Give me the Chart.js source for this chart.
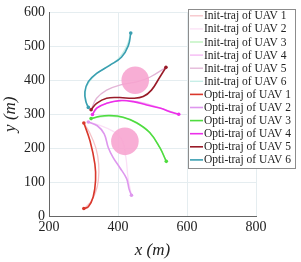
<!DOCTYPE html>
<html>
<head>
<meta charset="utf-8">
<script src="https://cdn.jsdelivr.net/npm/chart.js@4"></script>
<style>
  html, body { margin: 0; padding: 0; background: #fff; }
  #wrap { width: 301px; height: 262px; }
</style>
</head>
<body>
<div id="wrap"><canvas id="trajChart"></canvas></div>
<script>
// Axis ticks
const xTicks = [200, 400, 600, 800];
const yTicks = [0, 100, 200, 300, 400, 500, 600];

// Initial trajectories (m)
const init1X = [301, 318, 336, 344, 343, 335, 320, 301];
const init1Y = [274, 245, 200, 153, 105, 70, 40, 22];
const init2X = [314, 348, 385, 411, 423, 429, 439];
const init2Y = [277, 267, 250, 225, 172, 114, 61];
const init3X = [322, 348, 377, 416, 455, 493, 521, 540];
const init3Y = [287, 292, 294, 290, 273, 244, 202, 161];
const init4X = [326, 345, 380, 420, 460, 510, 576];
const init4Y = [299, 322, 336, 341, 336, 322, 300];
const init5X = [322, 338, 367, 405, 454, 492, 539];
const init5Y = [313, 347, 371, 386, 395, 409, 438];
const init6X = [314, 308, 305, 310, 330, 360, 400, 425, 437];
const init6Y = [320, 335, 360, 385, 412, 435, 462, 500, 539];

// Optimised trajectories (m)
const opti1X = [301, 319, 333, 335, 328, 314, 301];
const opti1Y = [274, 221, 153, 105, 56, 27, 22];
const opti2X = [314, 340, 360, 372, 386, 405, 425, 432, 439];
const opti2Y = [277, 266, 242, 201, 172, 143, 110, 80, 61];
const opti3X = [322, 348, 377, 415, 454, 492, 521, 540];
const opti3Y = [287, 294, 296, 291, 275, 246, 202, 161];
const opti4X = [326, 338, 367, 405, 444, 483, 521, 560, 576];
const opti4Y = [299, 318, 332, 340, 337, 327, 318, 304, 300];
const opti5X = [322, 338, 367, 405, 444, 473, 497, 521, 539];
const opti5Y = [313, 332, 347, 349, 347, 352, 371, 409, 438];
const opti6X = [314, 307, 304, 314, 338, 376, 410, 430, 437];
const opti6Y = [320, 337, 366, 396, 420, 444, 468, 502, 539];

// Obstacles (centre and radius, m)
const obsX = [450, 420];
const obsY = [400, 220];
const obsR = [40, 40];

const labels = [
  'Init-traj of UAV 1', 'Init-traj of UAV 2', 'Init-traj of UAV 3',
  'Init-traj of UAV 4', 'Init-traj of UAV 5', 'Init-traj of UAV 6',
  'Opti-traj of UAV 1', 'Opti-traj of UAV 2', 'Opti-traj of UAV 3',
  'Opti-traj of UAV 4', 'Opti-traj of UAV 5', 'Opti-traj of UAV 6'
];
const colors = [
  '#f6c2c8', '#fbe0f6', '#b9f2b9', '#f5b5f3', '#e2b4d6', '#c4eee6',
  '#d9372b', '#de97ee', '#4fdc3f', '#ec2fea', '#991b28', '#3a9fb1'
];

const xs = [init1X, init2X, init3X, init4X, init5X, init6X, opti1X, opti2X, opti3X, opti4X, opti5X, opti6X];
const ys = [init1Y, init2Y, init3Y, init4Y, init5Y, init6Y, opti1Y, opti2Y, opti3Y, opti4Y, opti5Y, opti6Y];

function pts(xArr, yArr) {
  return xArr.map((x, i) => ({ x: x, y: yArr[i] }));
}

const datasets = [];
labels.forEach((label, k) => {
  const isOpti = k >= 6;
  datasets.push({
    type: 'line',
    label: label,
    data: pts(xs[k], ys[k]),
    borderColor: colors[k],
    backgroundColor: colors[k],
    borderWidth: isOpti ? 1.6 : 1.3,
    tension: 0.4,
    fill: false,
    pointRadius: ctx => (isOpti && (ctx.dataIndex === 0 || ctx.dataIndex === xs[k].length - 1)) ? 1.8 : 0,
    pointBorderWidth: 0,
    order: isOpti ? 1 : 2
  });
});

// Obstacles: circles placed and sized with the chart scales
const obstacles = {
  id: 'obstacles',
  afterDatasetsDraw(chart) {
    const sx = chart.scales.x, sy = chart.scales.y;
    const ctx = chart.ctx;
    ctx.save();
    ctx.fillStyle = 'rgba(247, 163, 207, 0.88)';
    obsX.forEach((x, i) => {
      const cx = sx.getPixelForValue(x);
      const cy = sy.getPixelForValue(obsY[i]);
      const r = Math.abs(sx.getPixelForValue(x + obsR[i]) - cx);
      ctx.beginPath();
      ctx.arc(cx, cy, r, 0, Math.PI * 2);
      ctx.fill();
    });
    ctx.restore();
  }
};

// Legend drawn inside the plot, top right
const boxLegend = {
  id: 'boxLegend',
  afterDraw(chart) {
    const ctx = chart.ctx;
    const left = 188.5, top = 9.5, w = 107, h = 159;
    ctx.save();
    ctx.fillStyle = '#fff';
    ctx.fillRect(left, top, w, h);
    ctx.strokeStyle = '#8c8c8c';
    ctx.lineWidth = 1;
    ctx.strokeRect(left, top, w, h);
    ctx.font = '11.5px "Liberation Serif", serif';
    ctx.textBaseline = 'middle';
    ctx.fillStyle = '#222';
    labels.forEach((label, k) => {
      const y = 15.8 + k * 13.1;
      ctx.strokeStyle = colors[k];
      ctx.lineWidth = k >= 6 ? 1.6 : 1.3;
      ctx.beginPath();
      ctx.moveTo(left + 1.5, y);
      ctx.lineTo(left + 14.5, y);
      ctx.stroke();
      ctx.fillText(label, left + 15.5, y + 0.5);
    });
    ctx.restore();
  }
};

new Chart(document.getElementById('trajChart'), {
  data: { datasets: datasets },
  options: {
    responsive: true,
    maintainAspectRatio: false,
    animation: false,
    layout: { autoPadding: false, padding: { left: 0, top: 10, right: 45, bottom: 0 } },
    plugins: {
      legend: { display: false },
      tooltip: { enabled: false }
    },
    scales: {
      x: {
        type: 'linear',
        min: 200,
        max: 800,
        afterBuildTicks: scale => { scale.ticks = xTicks.map(v => ({ value: v })); },
        afterFit: scale => { scale.height = 46; },
        ticks: {
          color: '#222',
          padding: 3,
          maxRotation: 0,
          font: { family: '"Liberation Serif", serif', size: 14 }
        },
        grid: { color: '#e5edf0', drawTicks: false },
        border: { color: '#666', width: 1 },
        title: {
          display: true,
          text: 'x (m)',
          color: '#222',
          padding: { top: 0, bottom: 1 },
          font: { family: '"Liberation Serif", serif', size: 17, style: 'italic' }
        }
      },
      y: {
        type: 'linear',
        min: 0,
        max: 600,
        afterBuildTicks: scale => { scale.ticks = yTicks.map(v => ({ value: v })); },
        afterFit: scale => { scale.width = 49; },
        ticks: {
          color: '#222',
          padding: 4,
          font: { family: '"Liberation Serif", serif', size: 14 }
        },
        grid: { color: '#e5edf0', drawTicks: false },
        border: { color: '#666', width: 1 },
        title: {
          display: true,
          text: 'y (m)',
          color: '#222',
          padding: { top: 0, bottom: 0 },
          font: { family: '"Liberation Serif", serif', size: 17, style: 'italic' }
        }
      }
    }
  },
  plugins: [obstacles, boxLegend]
});
</script>
</body>
</html>
